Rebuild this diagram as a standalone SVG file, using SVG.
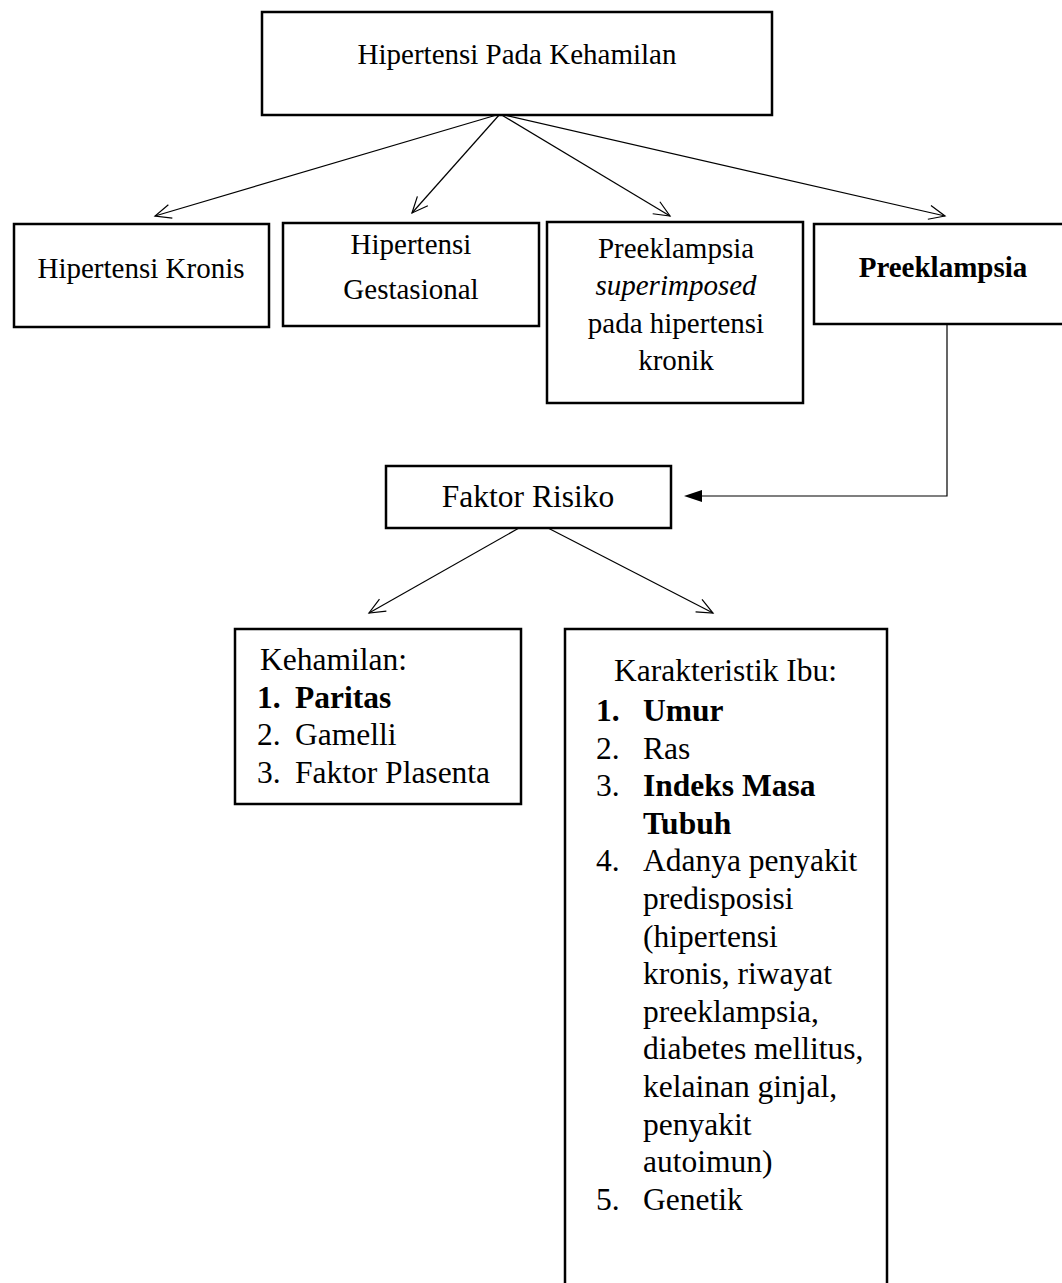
<svg xmlns="http://www.w3.org/2000/svg" width="1062" height="1283" viewBox="0 0 1062 1283">
<defs>
<style>
.box{fill:#fff;stroke:#000;stroke-width:2.5}
.t{font-family:"Liberation Serif","Times New Roman",serif;font-size:29px;fill:#000}
.s{font-size:31.5px}
.c{text-anchor:middle}
.b{font-weight:bold}
.i{font-style:italic}
.ln{stroke:#000;stroke-width:1.2;fill:none}
</style>
<marker id="open" viewBox="0 0 20 20" refX="18" refY="10" markerWidth="20" markerHeight="20" markerUnits="userSpaceOnUse" orient="auto">
<path d="M2,3 L18,10 L2,17" fill="none" stroke="#000" stroke-width="1.2"/>
</marker>
</defs>
<rect width="1062" height="1283" fill="#fff"/>
<g id="connectors">
<line class="ln" x1="500" y1="114" x2="155" y2="216" marker-end="url(#open)"/>
<line class="ln" x1="500" y1="114" x2="412" y2="213" marker-end="url(#open)"/>
<line class="ln" x1="500" y1="114" x2="670" y2="216" marker-end="url(#open)"/>
<line class="ln" x1="500" y1="114" x2="945" y2="216" marker-end="url(#open)"/>
<polyline class="ln" points="947,324 947,496 702,496"/>
<path d="M702,490 L684,496 L702,502 Z" fill="#000"/>
<line class="ln" x1="519" y1="528" x2="369" y2="613" marker-end="url(#open)"/>
<line class="ln" x1="548" y1="528" x2="713" y2="613" marker-end="url(#open)"/>
</g>
<g id="hipertensi-pada-kehamilan">
<rect class="box" x="262" y="12" width="510" height="103"/>
<text class="t c" x="517" y="64">Hipertensi Pada Kehamilan</text>
</g>
<g id="hipertensi-kronis">
<rect class="box" x="14" y="224" width="255" height="103"/>
<text class="t c" x="141" y="278">Hipertensi Kronis</text>
</g>
<g id="hipertensi-gestasional">
<rect class="box" x="283" y="223" width="256" height="103"/>
<text class="t c" x="411" y="254">Hipertensi</text>
<text class="t c" x="411" y="299">Gestasional</text>
</g>
<g id="preeklampsia-superimposed">
<rect class="box" x="547" y="222" width="256" height="181"/>
<text class="t c" x="676" y="258">Preeklampsia</text>
<text class="t c i" x="676" y="295">superimposed</text>
<text class="t c" x="676" y="333">pada hipertensi</text>
<text class="t c" x="676" y="370">kronik</text>
</g>
<g id="preeklampsia">
<rect class="box" x="814" y="224" width="260" height="100"/>
<text class="t c b" x="943" y="277">Preeklampsia</text>
</g>
<g id="faktor-risiko">
<rect class="box" x="386" y="466" width="285" height="62"/>
<text class="t s c" x="528" y="507">Faktor Risiko</text>
</g>
<g id="kehamilan">
<rect class="box" x="235" y="629" width="286" height="175"/>
<text class="t s" x="260" y="670">Kehamilan:</text>
<text class="t s b" x="257" y="707.5">1.</text><text class="t s b" x="295" y="707.5">Paritas</text>
<text class="t s" x="257" y="745">2.</text><text class="t s" x="295" y="745">Gamelli</text>
<text class="t s" x="257" y="782.5">3.</text><text class="t s" x="295" y="782.5">Faktor Plasenta</text>
</g>
<g id="karakteristik-ibu">
<rect class="box" x="565" y="629" width="322" height="670"/>
<text class="t s" x="614" y="681">Karakteristik Ibu:</text>
<text class="t s b" x="596" y="721">1.</text><text class="t s b" x="643" y="721">Umur</text>
<text class="t s" x="596" y="758.6">2.</text><text class="t s" x="643" y="758.6">Ras</text>
<text class="t s" x="596" y="796">3.</text><text class="t s b" x="643" y="796">Indeks Masa</text>
<text class="t s b" x="643" y="834">Tubuh</text>
<text class="t s" x="596" y="871">4.</text><text class="t s" x="643" y="871">Adanya penyakit</text>
<text class="t s" x="643" y="909">predisposisi</text>
<text class="t s" x="643" y="947">(hipertensi</text>
<text class="t s" x="643" y="984">kronis, riwayat</text>
<text class="t s" x="643" y="1022">preeklampsia,</text>
<text class="t s" x="643" y="1059">diabetes mellitus,</text>
<text class="t s" x="643" y="1097">kelainan ginjal,</text>
<text class="t s" x="643" y="1135">penyakit</text>
<text class="t s" x="643" y="1172">autoimun)</text>
<text class="t s" x="596" y="1210">5.</text><text class="t s" x="643" y="1210">Genetik</text>
</g>
</svg>
